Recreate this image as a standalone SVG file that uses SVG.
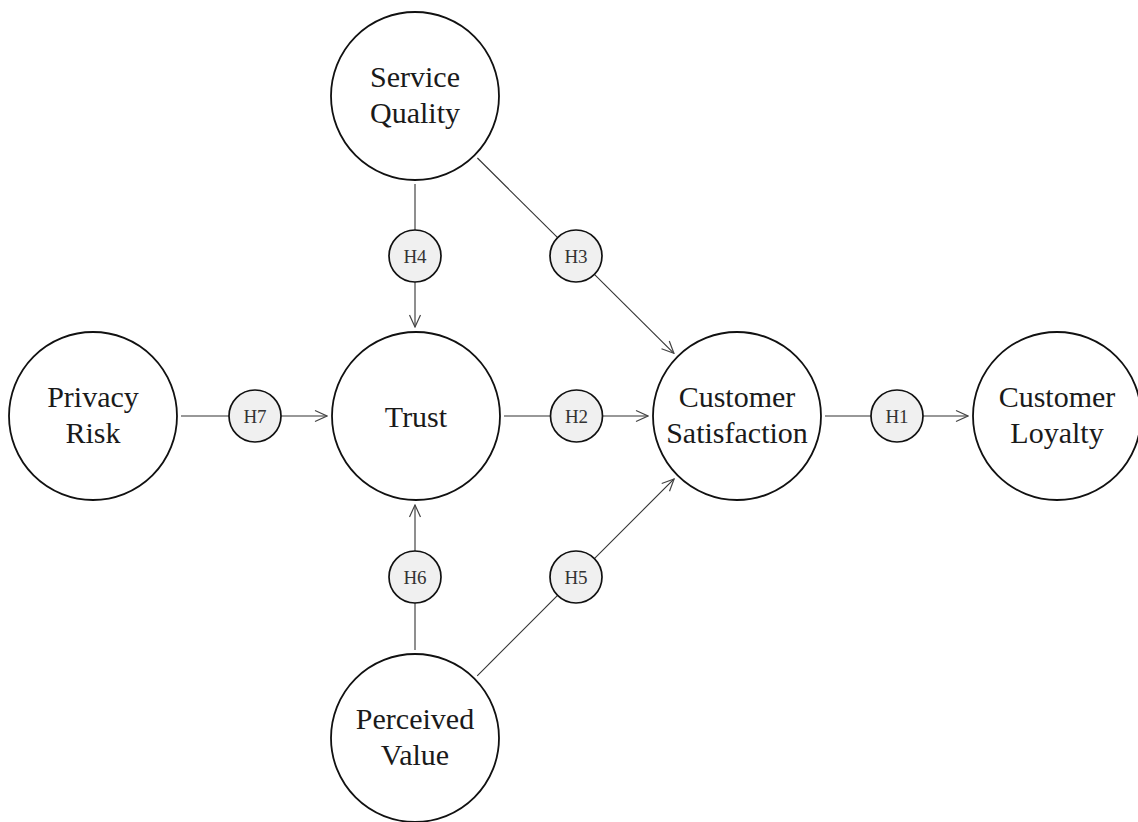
<svg xmlns="http://www.w3.org/2000/svg" width="1138" height="822" viewBox="0 0 1138 822">
  <defs>
    <marker id="arrow" markerUnits="userSpaceOnUse" markerWidth="14" markerHeight="14" viewBox="0 0 14 14" refX="13" refY="7" orient="auto">
      <path d="M1,1.5 L13,7 L1,12.5" fill="none" stroke="#444" stroke-width="1.2"/>
    </marker>
    <style>
      .node { fill: #fff; stroke: #111; stroke-width: 1.8; }
      .hyp { fill: #f0f0f0; stroke: #111; stroke-width: 1.7; }
      .label { font-family: "Liberation Serif", "Times New Roman", serif; font-size: 30px; fill: #1a1a1a; text-anchor: middle; }
      .hlabel { font-family: "Liberation Serif", "Times New Roman", serif; font-size: 19px; fill: #333; text-anchor: middle; }
      .edge { stroke: #333; stroke-width: 1.1; fill: none; }
      .arrow { marker-end: url(#arrow); }
    </style>
  </defs>
  <rect width="1138" height="822" fill="#fff"/>

  <!-- connectors -->
  <g id="connectors">
    <!-- H7: Privacy Risk -> Trust -->
    <line class="edge" x1="181" y1="416" x2="229" y2="416"/>
    <line class="edge arrow" x1="281" y1="416" x2="327" y2="416"/>
    <!-- H2: Trust -> Customer Satisfaction -->
    <line class="edge" x1="504" y1="416" x2="550" y2="416"/>
    <line class="edge arrow" x1="603" y1="416" x2="648" y2="416"/>
    <!-- H1: Customer Satisfaction -> Customer Loyalty -->
    <line class="edge" x1="825" y1="416" x2="871" y2="416"/>
    <line class="edge arrow" x1="923" y1="416" x2="968" y2="416"/>
    <!-- H4: Service Quality -> Trust -->
    <line class="edge" x1="415" y1="184" x2="415" y2="230"/>
    <line class="edge arrow" x1="415" y1="282" x2="415" y2="327"/>
    <!-- H6: Perceived Value -> Trust -->
    <line class="edge" x1="415" y1="650" x2="415" y2="603"/>
    <line class="edge arrow" x1="415" y1="551" x2="415" y2="505"/>
    <!-- H3: Service Quality -> Customer Satisfaction -->
    <line class="edge" x1="477.4" y1="158" x2="557.6" y2="237.7"/>
    <line class="edge arrow" x1="594.4" y1="274.3" x2="673.9" y2="353.3"/>
    <!-- H5: Perceived Value -> Customer Satisfaction -->
    <line class="edge" x1="477.2" y1="675.8" x2="557.6" y2="595.4"/>
    <line class="edge arrow" x1="594.4" y1="558.6" x2="674.1" y2="478.9"/>
  </g>

  <!-- constructs -->
  <g id="service-quality">
    <circle class="node" cx="415" cy="96" r="84"/>
    <text class="label" x="415" y="87">Service</text>
    <text class="label" x="415" y="123">Quality</text>
  </g>
  <g id="privacy-risk">
    <circle class="node" cx="93" cy="416" r="84"/>
    <text class="label" x="93" y="407">Privacy</text>
    <text class="label" x="93" y="443">Risk</text>
  </g>
  <g id="trust">
    <circle class="node" cx="416" cy="416" r="84"/>
    <text class="label" x="416" y="427">Trust</text>
  </g>
  <g id="customer-satisfaction">
    <circle class="node" cx="737" cy="416" r="84"/>
    <text class="label" x="737" y="407">Customer</text>
    <text class="label" x="737" y="443">Satisfaction</text>
  </g>
  <g id="customer-loyalty">
    <circle class="node" cx="1057" cy="416" r="84"/>
    <text class="label" x="1057" y="407">Customer</text>
    <text class="label" x="1057" y="443">Loyalty</text>
  </g>
  <g id="perceived-value">
    <circle class="node" cx="415" cy="738" r="84"/>
    <text class="label" x="415" y="729">Perceived</text>
    <text class="label" x="415" y="765">Value</text>
  </g>

  <!-- hypothesis markers -->
  <g id="h1">
    <circle class="hyp" cx="897" cy="416" r="26"/>
    <text class="hlabel" x="897" y="422.5">H1</text>
  </g>
  <g id="h2">
    <circle class="hyp" cx="576.5" cy="416" r="26"/>
    <text class="hlabel" x="576.5" y="422.5">H2</text>
  </g>
  <g id="h3">
    <circle class="hyp" cx="576" cy="256" r="26"/>
    <text class="hlabel" x="576" y="262.5">H3</text>
  </g>
  <g id="h4">
    <circle class="hyp" cx="415" cy="256" r="26"/>
    <text class="hlabel" x="415" y="262.5">H4</text>
  </g>
  <g id="h5">
    <circle class="hyp" cx="576" cy="577" r="26"/>
    <text class="hlabel" x="576" y="583.5">H5</text>
  </g>
  <g id="h6">
    <circle class="hyp" cx="415" cy="577" r="26"/>
    <text class="hlabel" x="415" y="583.5">H6</text>
  </g>
  <g id="h7">
    <circle class="hyp" cx="255" cy="416" r="26"/>
    <text class="hlabel" x="255" y="422.5">H7</text>
  </g>
</svg>
